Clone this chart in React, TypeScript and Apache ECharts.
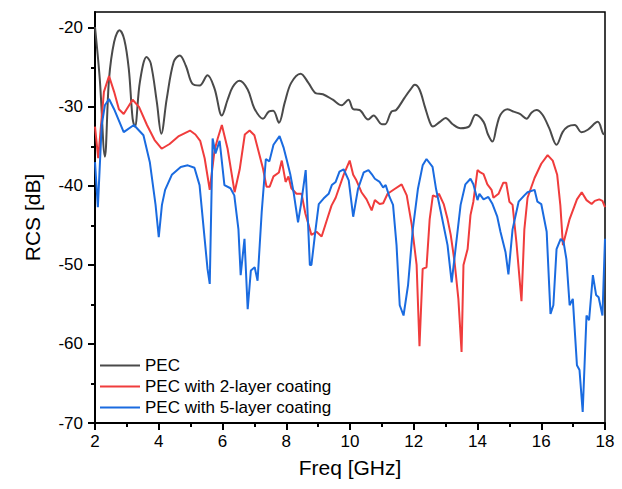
import React, { useEffect, useRef } from "react";
import * as echarts from "echarts";

const seriesNames = ["PEC", "PEC with 2-layer coating", "PEC with 5-layer coating"];
const xTicks = [2, 4, 6, 8, 10, 12, 14, 16, 18];
const yMajorTicks = [-70, -60, -50, -40, -30, -20];
const yMinorTicks = [-65, -55, -45, -35, -25];

const pec: number[][] = [
  [2.0, -19.9], [2.15, -26.5], [2.31, -36.3], [2.44, -26.5], [2.6, -21.8], [2.77, -20.3], [2.92, -21.5],
  [3.06, -25.2], [3.18, -31.5], [3.25, -32.5], [3.41, -26.8], [3.62, -23.7], [3.75, -24.5], [3.94, -29.4],
  [4.08, -33.4], [4.25, -29.0], [4.47, -24.3], [4.66, -23.5], [4.85, -24.8], [5.06, -27.1], [5.28, -27.3],
  [5.53, -26.0], [5.75, -27.7], [5.98, -31.1], [6.16, -29.1], [6.32, -27.5], [6.53, -26.7], [6.79, -27.8],
  [7.0, -30.2], [7.27, -31.5], [7.45, -30.6], [7.59, -30.5], [7.77, -32.0], [7.95, -29.5], [8.15, -27.0],
  [8.45, -25.8], [8.7, -27.0], [8.94, -28.3], [9.15, -28.4], [9.46, -29.1], [9.74, -29.8], [9.95, -29.1],
  [10.1, -30.3], [10.3, -30.4], [10.57, -31.6], [10.74, -31.1], [11.0, -32.2], [11.1, -32.2], [11.3, -30.6],
  [11.45, -30.4], [11.72, -28.8], [11.9, -27.8], [12.03, -27.2], [12.18, -27.8], [12.35, -30.0], [12.5, -31.9],
  [12.6, -32.5], [12.82, -31.9], [13.0, -31.4], [13.22, -32.2], [13.47, -32.7], [13.73, -32.5], [13.94, -31.0],
  [14.19, -31.9], [14.33, -33.5], [14.47, -34.4], [14.6, -32.5], [14.72, -31.0], [14.94, -30.3], [15.13, -30.6],
  [15.33, -30.9], [15.54, -31.5], [15.7, -30.7], [15.85, -30.4], [16.04, -31.0], [16.25, -32.7], [16.48, -34.8],
  [16.67, -33.2], [16.83, -32.5], [17.05, -32.3], [17.26, -33.2], [17.46, -32.9], [17.77, -31.9], [17.94, -33.4],
  [18.0, -33.5],
];

const twoLayer: number[][] = [
  [2.0, -32.5], [2.1, -36.5], [2.28, -28.1], [2.44, -26.1], [2.6, -28.1], [2.75, -30.3], [2.9, -30.9],
  [3.18, -29.1], [3.38, -30.0], [3.63, -32.3], [3.87, -34.2], [4.09, -35.3], [4.34, -34.7], [4.63, -33.7],
  [4.98, -33.0], [5.15, -33.5], [5.3, -34.3], [5.44, -36.5], [5.6, -40.5], [5.75, -35.5], [5.85, -34.0],
  [5.98, -32.3], [6.16, -35.3], [6.38, -40.8], [6.54, -37.9], [6.7, -33.5], [6.85, -33.0], [7.0, -33.6],
  [7.27, -37.8], [7.38, -40.1], [7.48, -40.1], [7.6, -38.8], [7.77, -38.3], [7.86, -36.8], [7.98, -39.5],
  [8.07, -38.8], [8.16, -40.3], [8.32, -41.0], [8.48, -41.0], [8.6, -43.5], [8.79, -46.2], [8.95, -45.8],
  [9.11, -46.4], [9.26, -44.5], [9.42, -42.5], [9.55, -41.5], [9.8, -38.6], [9.99, -36.8], [10.1, -38.6],
  [10.2, -39.3], [10.36, -40.8], [10.52, -41.7], [10.68, -43.1], [10.78, -41.8], [10.93, -42.3], [11.04, -42.2],
  [11.18, -41.0], [11.4, -40.4], [11.62, -39.8], [11.78, -41.2], [11.94, -45.0], [12.09, -50.0], [12.18, -60.3],
  [12.28, -50.5], [12.4, -50.3], [12.5, -44.2], [12.6, -41.2], [12.71, -41.4], [12.79, -41.0], [12.94, -42.3],
  [13.06, -44.2], [13.16, -46.2], [13.28, -49.6], [13.4, -54.3], [13.5, -61.0], [13.56, -50.0], [13.69, -48.0],
  [13.78, -43.7], [13.87, -42.0], [14.0, -38.0], [14.09, -38.3], [14.19, -38.5], [14.31, -39.8], [14.44, -40.5],
  [14.5, -41.5], [14.66, -41.0], [14.81, -39.6], [14.9, -39.6], [15.0, -42.0], [15.1, -42.4], [15.22, -47.1],
  [15.38, -54.6], [15.47, -45.5], [15.57, -41.5], [15.79, -39.0], [16.0, -37.2], [16.2, -36.1], [16.36, -36.8],
  [16.5, -38.6], [16.6, -42.5], [16.68, -47.5], [16.89, -44.2], [17.12, -41.7], [17.27, -40.8], [17.42, -41.8],
  [17.58, -42.3], [17.68, -41.9], [17.82, -41.7], [17.92, -41.9], [18.0, -42.7],
];

const fiveLayer: number[][] = [
  [2.0, -37.0], [2.09, -42.7], [2.21, -32.3], [2.31, -29.8], [2.44, -29.0], [2.6, -30.3], [2.9, -33.2],
  [3.22, -32.3], [3.52, -33.6], [3.72, -37.0], [3.9, -42.4], [4.0, -46.5], [4.1, -42.4], [4.2, -40.5],
  [4.41, -38.6], [4.69, -37.6], [4.91, -37.4], [5.12, -37.7], [5.28, -39.9], [5.44, -46.7], [5.53, -50.5],
  [5.6, -52.4], [5.69, -34.0], [5.78, -35.9], [5.91, -34.3], [6.06, -39.9], [6.25, -40.3], [6.37, -41.2],
  [6.5, -45.5], [6.57, -51.3], [6.69, -46.7], [6.79, -55.6], [6.89, -50.7], [7.01, -50.3], [7.1, -52.0],
  [7.23, -43.3], [7.36, -36.6], [7.47, -36.9], [7.6, -34.8], [7.79, -33.7], [7.92, -35.2], [8.02, -36.8],
  [8.13, -38.6], [8.23, -40.8], [8.37, -44.6], [8.46, -42.4], [8.61, -38.0], [8.65, -41.6], [8.74, -50.0],
  [8.79, -50.0], [8.92, -45.5], [9.02, -42.3], [9.17, -41.6], [9.33, -41.0], [9.43, -39.9], [9.55, -39.5],
  [9.67, -38.2], [9.8, -37.9], [9.96, -39.3], [10.1, -43.9], [10.25, -40.4], [10.43, -38.3], [10.58, -38.0],
  [10.68, -38.5], [10.78, -39.1], [10.93, -39.5], [11.04, -40.2], [11.12, -39.9], [11.24, -41.4], [11.35, -42.4],
  [11.46, -47.5], [11.56, -55.1], [11.68, -56.4], [11.82, -52.6], [11.97, -45.5], [12.13, -40.4], [12.28, -37.4],
  [12.4, -36.6], [12.59, -37.6], [12.7, -40.4], [12.85, -43.3], [13.06, -47.5], [13.19, -52.2], [13.31, -48.0],
  [13.47, -42.4], [13.62, -39.8], [13.78, -39.1], [13.87, -39.8], [14.0, -41.8], [14.06, -41.0], [14.19, -41.7],
  [14.34, -41.4], [14.47, -42.3], [14.62, -43.9], [14.72, -45.8], [14.88, -48.4], [14.97, -51.2], [15.1, -45.5],
  [15.29, -42.0], [15.47, -41.2], [15.57, -40.8], [15.79, -40.5], [15.88, -42.0], [16.0, -42.3], [16.17, -45.8],
  [16.29, -56.2], [16.38, -55.1], [16.48, -48.0], [16.61, -46.7], [16.7, -47.1], [16.79, -49.3], [16.89, -55.1],
  [16.99, -54.3], [17.12, -62.7], [17.2, -63.3], [17.3, -68.6], [17.42, -56.4], [17.5, -57.0], [17.62, -51.3],
  [17.72, -53.8], [17.8, -54.1], [17.92, -56.4], [18.0, -46.7],
];

const colors = ["#4a4a4a", "#f03c3c", "#1a6be0"];
const FONT = "Liberation Sans, Arial, sans-serif";

export default function App() {
  const ref = useRef<HTMLDivElement>(null);
  useEffect(() => {
    if (!ref.current) return;
    const chart = echarts.init(ref.current, null, { renderer: "svg" });
    const lineAxis = { show: true, lineStyle: { color: "#000", width: 2 } };
    chart.setOption({
      animation: false,
      backgroundColor: "#fff",
      grid: {
        left: 95, right: 17, top: 12, bottom: 66,
        show: true, borderColor: "#000", borderWidth: 1.5, backgroundColor: "transparent",
      },
      legend: {
        orient: "vertical",
        left: 100,
        top: 357,
        padding: 0,
        itemWidth: 40,
        itemHeight: 17,
        itemGap: 4,
        icon: "path://M0,8 L40,8 L40,10 L0,10 Z",
        data: seriesNames,
        textStyle: { fontFamily: FONT, fontSize: 17, color: "#000", lineHeight: 17 },
      },
      xAxis: {
        type: "value",
        min: xTicks[0],
        max: xTicks[xTicks.length - 1],
        interval: 2,
        name: "Freq [GHz]",
        nameLocation: "middle",
        nameGap: 34,
        nameTextStyle: { fontFamily: FONT, fontSize: 21, color: "#000" },
        axisLine: lineAxis,
        axisTick: { show: true, length: 7, lineStyle: { color: "#000", width: 2 } },
        minorTick: { show: true, splitNumber: 2, length: 4, lineStyle: { color: "#000", width: 2 } },
        axisLabel: { fontFamily: FONT, fontSize: 17, color: "#000", margin: 10 },
        splitLine: { show: false },
      },
      yAxis: [
        {
          type: "value",
          min: -70,
          max: -18,
          name: "RCS [dB]",
          nameLocation: "middle",
          nameGap: 52,
          nameRotate: 90,
          nameTextStyle: { fontFamily: FONT, fontSize: 21, color: "#000" },
          axisLine: lineAxis,
          axisTick: { show: true, length: 7, customValues: yMajorTicks, lineStyle: { color: "#000", width: 2 } },
          axisLabel: { fontFamily: FONT, fontSize: 17, color: "#000", margin: 12, customValues: yMajorTicks },
          splitLine: { show: false },
        },
        {
          type: "value",
          min: -70,
          max: -18,
          position: "left",
          axisLine: { show: false },
          axisTick: { show: true, length: 4, customValues: yMinorTicks, lineStyle: { color: "#000", width: 2 } },
          axisLabel: { show: false },
          splitLine: { show: false },
        },
      ],
      series: [
        { name: seriesNames[0], type: "line", data: pec, symbol: "none", smooth: 0.35, yAxisIndex: 0,
          lineStyle: { color: colors[0], width: 2 }, itemStyle: { color: colors[0] }, z: 3 },
        { name: seriesNames[1], type: "line", data: twoLayer, symbol: "none", yAxisIndex: 0,
          lineStyle: { color: colors[1], width: 2 }, itemStyle: { color: colors[1] }, z: 4 },
        { name: seriesNames[2], type: "line", data: fiveLayer, symbol: "none", yAxisIndex: 0,
          lineStyle: { color: colors[2], width: 2 }, itemStyle: { color: colors[2] }, z: 5 },
      ],
    });
    return () => chart.dispose();
  }, []);
  return (
    <div
      ref={ref}
      style={{ position: "fixed", left: 0, top: 0, width: 622, height: 489, background: "#fff" }}
    />
  );
}
